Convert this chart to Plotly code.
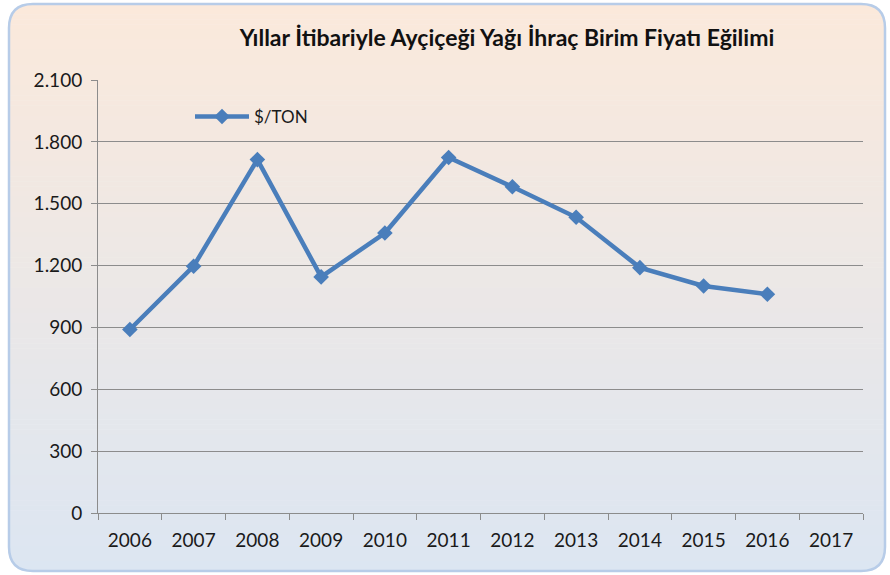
import plotly.graph_objects as go

years = ["2006", "2007", "2008", "2009", "2010", "2011", "2012", "2013", "2014", "2015", "2016", "2017"]
price_usd_ton = [890, 1197, 1714, 1145, 1358, 1724, 1582, 1434, 1190, 1101, 1061, None]
series_name = "$/TON"
title_text = "Yıllar İtibariyle Ayçiçeği Yağı İhraç Birim Fiyatı Eğilimi"

W, H = 890, 575
ML, MR, MT, MB = 98, 27, 80, 62
PW, PH = W - ML - MR, H - MT - MB


def px2paper(px, py):
    return (px - ML) / PW, (H - MB - py) / PH


def lerp_color(c1, c2, t):
    return "rgb(%d,%d,%d)" % tuple(round(a + (b - a) * t) for a, b in zip(c1, c2))


shapes = []
# background gradient strips inside the chart frame
bx0, by0, bx1, by1 = 9, 4, 885, 571
top_c, bot_c = (251, 233, 219), (220, 230, 242)
n = 112
for i in range(n):
    ya = by0 + (by1 - by0) * i / n
    yb = by0 + (by1 - by0) * (i + 1) / n + 0.6
    x0p, y0p = px2paper(bx0, ya)
    x1p, y1p = px2paper(bx1, yb)
    shapes.append(dict(type="rect", xref="paper", yref="paper", x0=x0p, x1=x1p,
                       y0=y1p, y1=y0p, line=dict(width=0),
                       fillcolor=lerp_color(top_c, bot_c, (i + 0.5) / n), layer="below"))

r = 24


def P(px, py):
    x, y = px2paper(px, py)
    return "%.5f,%.5f" % (x, y)


# white corner masks (region between square corner and rounded arc)
corners = [
    (bx0, by0, bx0 + r, by0, bx0, by0 + r),
    (bx1, by0, bx1 - r, by0, bx1, by0 + r),
    (bx0, by1, bx0 + r, by1, bx0, by1 - r),
    (bx1, by1, bx1 - r, by1, bx1, by1 - r),
]
for cx, cy, ax, ay, bxx, byy in corners:
    ox = -3 if cx == bx0 else 3
    oy = -3 if cy == by0 else 3
    path = "M%s L%s L%s Q%s %s L%s Z" % (P(cx + ox, cy + oy), P(ax, cy + oy), P(ax, ay),
                                         P(cx, cy), P(bxx, byy), P(cx + ox, byy))
    shapes.append(dict(type="path", xref="paper", yref="paper", path=path,
                       fillcolor="white", line=dict(width=0), layer="below"))

# rounded frame
frame = ("M%s L%s Q%s %s L%s Q%s %s L%s Q%s %s L%s Q%s %s Z" % (
    P(bx0 + r, by0), P(bx1 - r, by0), P(bx1, by0), P(bx1, by0 + r),
    P(bx1, by1 - r), P(bx1, by1), P(bx1 - r, by1),
    P(bx0 + r, by1), P(bx0, by1), P(bx0, by1 - r),
    P(bx0, by0 + r), P(bx0, by0), P(bx0 + r, by0)))
shapes.append(dict(type="path", xref="paper", yref="paper", path=frame,
                   line=dict(color="#B7CCE8", width=2.5), layer="below"))

fig = go.Figure()
fig.add_trace(go.Scatter(
    x=years, y=price_usd_ton, name=series_name, mode="lines+markers",
    line=dict(color="#4A7EBB", width=4.5),
    marker=dict(symbol="diamond", size=12, color="#4A7EBB"),
    connectgaps=False,
))

fig.update_layout(
    width=W, height=H,
    margin=dict(l=ML, r=MR, t=MT, b=MB, pad=0),
    paper_bgcolor="white",
    plot_bgcolor="rgba(0,0,0,0)",
    separators=",.",
    font=dict(family="Lato, Open Sans, sans-serif", size=19, color="#1a1a1a"),
    title=dict(text="<b>" + title_text + "</b>", x=507 / W, xanchor="center",
               y=1 - 38 / H, yanchor="middle", xref="container", yref="container",
               font=dict(family="Lato, sans-serif", size=23, color="#111111")),
    showlegend=True,
    legend=dict(x=px2paper(190, 0)[0], y=px2paper(0, 117)[1], xanchor="left", yanchor="middle",
                bgcolor="rgba(0,0,0,0)", borderwidth=0, itemwidth=54,
                font=dict(size=17, color="#1a1a1a")),
    shapes=shapes,
    xaxis=dict(type="category", categoryorder="array", categoryarray=years,
               range=[-0.5, len(years) - 0.5], showgrid=False,
               showline=True, linecolor="#8c8c8c", linewidth=1,
               ticks="outside", tickson="boundaries", ticklen=6, tickcolor="#8c8c8c",
               ticklabelstandoff=10,
               tickfont=dict(size=19, color="#1a1a1a"), fixedrange=True),
    yaxis=dict(range=[0, 2100], dtick=300, tick0=0, tickformat=",d",
               showgrid=True, gridcolor="#8c8c8c", gridwidth=1,
               showline=True, linecolor="#8c8c8c", linewidth=1,
               ticks="outside", ticklen=6, tickcolor="#8c8c8c",
               ticklabelstandoff=5,
               zeroline=False, tickfont=dict(size=19, color="#1a1a1a"),
               fixedrange=True),
)

fig.write_html("out.html", config={"displayModeBar": False},
               post_script="document.body.style.margin='0';document.body.style.overflow='hidden';")
